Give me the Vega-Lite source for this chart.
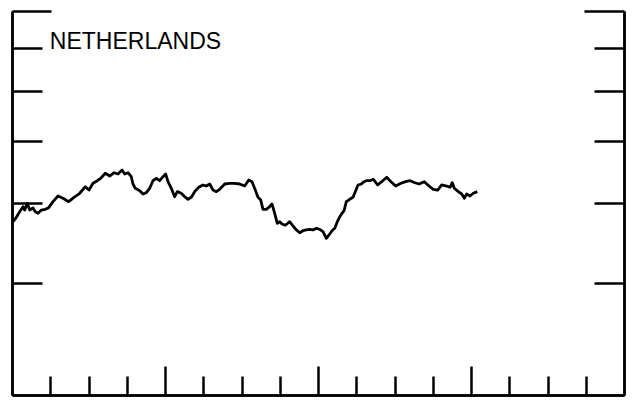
{
  "$schema": "https://vega.github.io/schema/vega-lite/v6.json",
  "width": 612,
  "height": 384,
  "autosize": "none",
  "padding": {"left": 12, "top": 11, "right": 10, "bottom": 6},
  "background": "white",
  "config": {
    "view": {"stroke": null},
    "axis": {"labels": false, "grid": false, "domainColor": "black", "tickColor": "black", "domainWidth": 2.5, "tickWidth": 2.5}
  },
  "datasets": {
    "series": [
      {"t":0.026,"v":3.739},{"t":0.086,"v":3.776},{"t":0.201,"v":3.876},{"t":0.288,"v":3.947},{"t":0.332,"v":3.900},
      {"t":0.400,"v":3.996},{"t":0.463,"v":3.900},{"t":0.549,"v":3.928},{"t":0.609,"v":3.876},{"t":0.680,"v":3.854},
      {"t":0.766,"v":3.900},{"t":0.871,"v":3.910},{"t":0.959,"v":3.933},{"t":1.072,"v":4.019},{"t":1.203,"v":4.102},
      {"t":1.333,"v":4.068},{"t":1.482,"v":4.019},{"t":1.621,"v":4.083},{"t":1.770,"v":4.143},{"t":1.916,"v":4.242},
      {"t":2.013,"v":4.192},{"t":2.118,"v":4.295},{"t":2.230,"v":4.335},{"t":2.319,"v":4.373},{"t":2.439,"v":4.453},
      {"t":2.554,"v":4.409},{"t":2.667,"v":4.462},{"t":2.771,"v":4.441},{"t":2.876,"v":4.506},{"t":2.946,"v":4.441},
      {"t":3.033,"v":4.462},{"t":3.119,"v":4.398},{"t":3.163,"v":4.284},{"t":3.224,"v":4.218},{"t":3.339,"v":4.182},
      {"t":3.425,"v":4.132},{"t":3.511,"v":4.152},{"t":3.600,"v":4.218},{"t":3.686,"v":4.335},{"t":3.773,"v":4.373},
      {"t":3.861,"v":4.335},{"t":3.948,"v":4.398},{"t":4.018,"v":4.441},{"t":4.078,"v":4.320},{"t":4.165,"v":4.218},
      {"t":4.253,"v":4.092},{"t":4.322,"v":4.167},{"t":4.426,"v":4.143},{"t":4.515,"v":4.092},{"t":4.601,"v":4.054},
      {"t":4.688,"v":4.083},{"t":4.776,"v":4.167},{"t":4.881,"v":4.233},{"t":4.993,"v":4.269},{"t":5.080,"v":4.253},
      {"t":5.169,"v":4.284},{"t":5.255,"v":4.192},{"t":5.341,"v":4.167},{"t":5.430,"v":4.203},{"t":5.561,"v":4.284},
      {"t":5.692,"v":4.295},{"t":5.822,"v":4.295},{"t":5.953,"v":4.284},{"t":6.084,"v":4.253},{"t":6.188,"v":4.346},
      {"t":6.275,"v":4.320},{"t":6.361,"v":4.192},{"t":6.431,"v":4.083},{"t":6.502,"v":4.044},{"t":6.562,"v":3.910},
      {"t":6.648,"v":3.910},{"t":6.737,"v":3.947},{"t":6.797,"v":3.986},{"t":6.868,"v":3.854},{"t":6.936,"v":3.717},
      {"t":6.999,"v":3.739},{"t":7.059,"v":3.708},{"t":7.145,"v":3.691},{"t":7.260,"v":3.739},{"t":7.346,"v":3.681},
      {"t":7.433,"v":3.629},{"t":7.522,"v":3.593},{"t":7.608,"v":3.619},{"t":7.694,"v":3.629},{"t":7.783,"v":3.638},
      {"t":7.869,"v":3.629},{"t":7.956,"v":3.651},{"t":8.044,"v":3.638},{"t":8.131,"v":3.606},{"t":8.217,"v":3.521},
      {"t":8.288,"v":3.564},{"t":8.366,"v":3.619},{"t":8.437,"v":3.651},{"t":8.505,"v":3.739},{"t":8.594,"v":3.830},
      {"t":8.680,"v":3.890},{"t":8.740,"v":4.019},{"t":8.829,"v":4.054},{"t":8.915,"v":4.083},{"t":8.975,"v":4.167},
      {"t":9.046,"v":4.269},{"t":9.132,"v":4.284},{"t":9.203,"v":4.320},{"t":9.263,"v":4.335},{"t":9.373,"v":4.338},
      {"t":9.446,"v":4.357},{"t":9.561,"v":4.269},{"t":9.665,"v":4.320},{"t":9.796,"v":4.389},{"t":9.908,"v":4.320},
      {"t":10.031,"v":4.253},{"t":10.170,"v":4.295},{"t":10.293,"v":4.320},{"t":10.405,"v":4.335},{"t":10.536,"v":4.304},
      {"t":10.641,"v":4.284},{"t":10.779,"v":4.320},{"t":10.902,"v":4.253},{"t":11.014,"v":4.203},{"t":11.129,"v":4.192},
      {"t":11.234,"v":4.269},{"t":11.365,"v":4.253},{"t":11.451,"v":4.233},{"t":11.511,"v":4.304},{"t":11.563,"v":4.218},
      {"t":11.668,"v":4.167},{"t":11.757,"v":4.132},{"t":11.825,"v":4.068},{"t":11.888,"v":4.132},{"t":11.974,"v":4.102},
      {"t":12.060,"v":4.143},{"t":12.165,"v":4.167}
    ],
    "label": [{"t":0.99,"v":7.15,"label":"NETHERLANDS"}]
  },
  "layer": [
    {
      "data": {"name": "series"},
      "mark": {"type": "line", "color": "black", "strokeWidth": 2.8, "strokeJoin": "round"},
      "encoding": {
        "x": {"field": "t", "type": "quantitative", "scale": {"domain": [0, 16], "nice": false, "zero": false},
              "axis": {"orient": "bottom", "values": [4, 8, 12], "tickSize": -29, "title": null}},
        "y": {"field": "v", "type": "quantitative", "scale": {"type": "log", "domain": [2, 8], "nice": false},
              "axis": {"orient": "left", "values": [3, 4, 5, 6, 7], "tickSize": -30, "title": null}}
      }
    },
    {
      "data": {"name": "label"},
      "mark": {"type": "text", "align": "left", "baseline": "middle", "font": "Liberation Sans", "fontSize": 23, "color": "black"},
      "encoding": {
        "x": {"field": "t", "type": "quantitative",
              "axis": {"orient": "bottom", "values": [1, 2, 3, 5, 6, 7, 9, 10, 11, 13, 14, 15], "tickSize": -19, "title": null}},
        "y": {"field": "v", "type": "quantitative",
              "axis": {"orient": "right", "values": [3, 4, 5, 6, 7], "tickSize": -30, "title": null}},
        "text": {"field": "label"}
      }
    },
    {
      "data": {"name": "label"},
      "mark": {"type": "point", "opacity": 0},
      "encoding": {
        "x": {"field": "t", "type": "quantitative", "axis": null},
        "y": {"field": "v", "type": "quantitative",
              "axis": {"orient": "left", "values": [8], "tickSize": -39, "title": null}}
      }
    },
    {
      "data": {"name": "label"},
      "mark": {"type": "point", "opacity": 0},
      "encoding": {
        "x": {"field": "t", "type": "quantitative", "axis": null},
        "y": {"field": "v", "type": "quantitative",
              "axis": {"orient": "right", "values": [8], "tickSize": -40, "title": null}}
      }
    }
  ],
  "resolve": {"axis": {"x": "independent", "y": "independent"}}
}
